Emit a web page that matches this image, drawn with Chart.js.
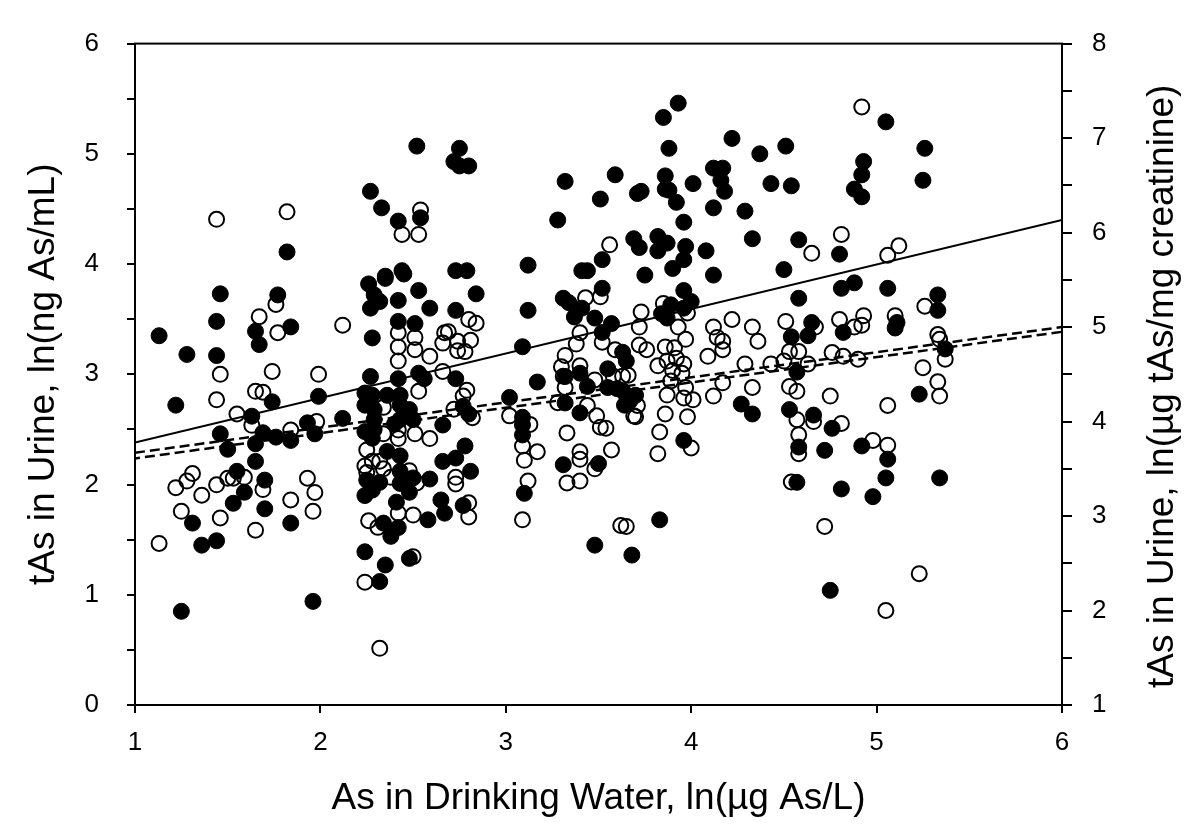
<!DOCTYPE html>
<html>
<head>
<meta charset="utf-8">
<script src="https://cdn.jsdelivr.net/npm/chart.js@4/dist/chart.umd.min.js"></script>
<style>
    html, body { margin: 0; padding: 0; background: #fff; }
    #wrap { width: 1200px; height: 829px; }
</style>
</head>
<body>
<div id="wrap"><canvas id="chart" width="1200" height="829"></canvas></div>
<script>
// values
var xTicks = [1, 2, 3, 4, 5, 6];
var leftTicks = [0, 1, 2, 3, 4, 5, 6];
var rightTicks = [1, 2, 3, 4, 5, 6, 7, 8];

// tAs in urine, ng As/mL (filled circles, left axis)
var filledX = [2.52,2.27,2.33,2.42,2.54,1.82,2.44,2.35,2.75,2.72,2.75,2.80,3.32,3.59,3.51,3.71,3.73,3.28,3.12,2.73,
    2.79,3.41,3.44,3.52,3.69,3.72,3.82,3.87,3.82,3.97,3.96,3.90,3.75,4.12,4.08,3.96,3.92,3.86,3.86,3.88,
    4.01,4.12,4.12,4.17,4.16,4.18,4.29,4.33,4.22,4.37,3.88,3.85,3.93,5.05,4.51,4.43,4.54,4.93,4.92,4.88,
    4.92,5.26,5.25,4.58,4.80,4.50,1.13,1.28,1.46,1.44,1.44,1.22,1.77,1.65,1.67,1.84,1.74,1.99,1.63,1.46,
    1.50,1.69,1.65,1.76,1.84,1.93,1.97,2.12,1.65,1.55,1.70,2.26,2.35,2.45,2.29,2.27,2.32,2.42,2.53,2.59,
    2.28,2.42,2.51,2.27,2.42,2.53,2.56,2.24,2.28,2.36,2.43,2.24,2.29,2.43,2.48,2.29,2.43,2.50,2.24,2.29,
    2.40,2.66,2.28,2.36,2.43,2.66,2.43,2.25,2.32,2.50,2.59,2.43,2.84,2.73,3.12,3.09,2.73,2.77,2.80,2.78,
    2.73,2.81,3.17,3.02,3.09,3.09,3.09,3.31,3.50,3.40,3.32,3.32,3.40,3.37,3.41,3.48,3.31,3.34,3.52,3.52,
    3.57,3.63,3.65,3.55,3.44,3.55,3.60,3.63,3.70,3.65,3.67,3.64,3.84,3.87,3.89,3.96,4.00,3.96,3.96,4.27,
    4.33,4.58,4.81,4.88,5.06,5.33,5.33,4.65,4.54,4.63,4.82,5.10,5.11,5.37,5.23,4.57,4.53,4.66,4.76,4.58,
    4.72,4.92,5.06,5.05,5.34,4.57,4.81,1.31,1.36,1.44,1.53,1.59,1.70,1.84,1.25,1.96,2.32,2.24,2.35,2.48,
    2.34,2.38,2.42,2.58,2.41,2.24,2.28,2.48,2.65,2.67,2.77,3.10,3.48,3.68,3.83,4.98,4.75];
var filledY = [5.07,4.66,4.51,4.39,4.42,4.11,3.94,3.89,5.05,4.93,4.89,4.89,4.75,4.81,4.59,4.64,4.66,4.40,3.99,3.94,
    3.94,3.94,3.94,4.04,4.23,4.15,4.25,4.19,4.12,4.16,4.04,3.96,3.90,3.90,4.12,4.38,4.56,4.80,4.68,4.67,
    4.73,4.51,4.87,4.87,4.76,4.66,4.48,4.23,5.14,5.00,5.05,5.33,5.46,5.29,5.07,4.73,4.71,4.93,4.81,4.68,
    4.61,5.05,4.76,4.22,4.09,3.95,3.35,3.18,3.73,3.48,3.17,2.72,3.72,3.39,3.27,3.43,2.75,2.80,2.62,2.46,
    2.32,2.47,2.37,2.43,2.40,2.56,2.46,2.60,2.21,2.12,2.04,3.82,3.87,3.91,3.72,3.60,3.66,3.67,3.76,3.60,
    3.33,3.48,3.46,2.98,2.96,3.01,2.96,2.83,2.81,2.81,2.81,2.72,2.68,2.72,2.68,2.59,2.59,2.59,2.48,2.50,
    2.55,2.54,2.42,2.30,2.26,2.21,2.12,2.04,2.02,2.06,2.05,2.01,3.73,3.58,3.58,3.25,2.96,2.71,2.64,2.35,
    2.24,2.12,2.93,2.79,2.61,2.54,2.45,2.18,2.19,2.65,2.74,2.98,3.01,3.52,3.60,3.51,3.69,3.65,3.78,3.38,
    3.46,3.20,3.12,3.05,2.89,2.88,2.87,2.85,2.81,2.81,2.76,2.72,3.55,3.51,3.63,3.60,3.66,3.76,2.40,2.73,
    2.64,3.69,3.78,3.83,3.78,3.72,3.58,3.47,3.34,3.35,3.38,3.42,3.47,3.23,2.82,3.02,2.68,2.63,2.51,2.34,
    2.31,2.35,2.23,2.06,2.06,2.02,1.96,1.65,1.45,1.49,1.83,1.93,1.78,1.65,0.85,0.94,1.12,1.39,1.27,1.33,
    1.65,1.53,1.61,1.68,1.84,1.90,1.95,1.93,1.86,1.74,1.81,1.92,1.45,1.36,1.68,1.89,1.04];

// tAs in urine, ug tAs/mg creatinine (open circles, right axis)
var openX = [1.44,1.82,2.54,2.44,2.53,3.56,4.92,4.65,4.81,5.06,5.12,1.46,1.44,1.76,1.67,1.77,1.74,1.99,2.12,1.65,
    1.69,1.55,1.63,1.84,1.98,1.31,1.28,1.22,1.44,1.50,1.53,1.59,1.93,2.42,2.51,2.42,2.51,2.59,2.42,2.67,
    2.66,2.66,2.53,2.34,2.34,2.42,2.42,2.51,2.59,2.25,2.28,2.32,2.24,2.25,2.34,2.38,2.48,2.52,2.80,2.84,
    2.69,2.74,2.81,2.74,2.78,2.79,2.77,2.72,2.82,2.73,2.73,3.02,3.13,3.09,3.17,3.10,3.33,3.12,3.33,3.40,
    3.40,3.40,3.48,3.57,3.51,3.54,3.49,3.44,3.28,3.32,3.31,3.30,3.40,3.32,3.38,3.40,3.43,3.51,3.52,3.59,
    3.58,3.63,3.66,3.48,3.71,3.69,3.70,3.73,3.72,3.72,3.76,3.82,3.85,3.98,3.93,3.97,3.86,3.91,3.87,3.92,
    3.96,3.90,3.95,3.89,3.97,3.87,3.96,4.01,3.86,3.98,3.83,3.82,4.00,4.12,4.14,4.17,4.17,4.09,4.22,4.33,
    4.36,4.29,4.17,4.12,4.33,5.26,4.51,4.67,4.80,4.88,4.92,4.93,5.10,5.33,5.34,5.37,5.25,5.33,5.34,5.06,
    4.75,4.53,4.58,4.50,4.43,4.63,4.76,4.82,4.90,4.53,4.57,4.57,4.66,4.81,4.58,4.58,4.98,5.06,4.54,1.36,
    1.25,1.13,1.46,1.69,1.65,1.84,1.97,1.96,2.24,2.50,2.32,2.26,2.31,2.50,2.42,2.80,2.80,3.09,3.62,3.65,
    4.72,5.05,5.23];
var openY = [6.14,6.22,6.24,5.98,5.98,5.87,7.33,5.78,5.98,5.76,5.86,4.50,4.23,5.24,5.11,4.94,4.53,4.50,5.02,4.32,
    4.31,4.08,3.96,3.91,4.00,3.45,3.37,3.30,3.33,3.40,3.40,3.41,3.40,4.94,4.89,4.79,4.76,4.69,4.64,4.94,
    4.83,4.53,4.32,4.15,3.87,3.91,3.82,3.87,3.82,3.70,3.58,3.58,3.53,3.46,3.50,3.41,3.48,3.35,5.08,5.04,
    4.95,4.85,4.86,4.75,4.74,4.33,4.27,4.13,4.04,3.41,3.34,4.06,3.97,3.74,3.68,3.59,3.88,3.37,3.35,3.68,
    3.60,3.37,3.50,3.70,3.94,3.93,4.06,4.17,4.20,4.36,4.48,4.58,4.59,4.70,4.82,4.94,5.31,5.32,4.84,4.76,
    4.48,4.48,4.49,4.44,4.17,4.06,4.05,5.16,5.00,4.81,4.76,4.59,5.25,5.15,5.00,4.87,4.79,4.78,4.64,4.67,
    4.61,4.54,4.51,4.43,4.36,4.28,4.25,4.23,4.08,4.05,3.89,3.66,3.72,5.00,4.89,4.85,4.76,4.69,5.08,5.00,
    4.85,4.61,4.41,4.27,4.36,5.22,5.06,5.00,5.08,5.00,5.02,5.12,5.12,4.92,4.87,4.66,4.57,4.42,4.27,4.17,
    4.27,4.74,4.74,4.64,4.61,4.61,4.73,4.69,4.66,4.37,4.32,4.02,4.00,3.98,3.86,3.66,3.80,3.75,3.36,3.22,
    3.05,2.71,2.98,3.28,2.85,3.17,3.25,3.05,2.30,2.57,1.60,2.95,2.88,3.01,3.03,3.14,2.99,2.96,2.90,2.89,
    2.89,2.00,2.39];

// fitted lines, end points at x = 1 and x = 6
var fitX = [1, 6];
var fitSolid = [2.38, 4.40];       // left axis
var fitDashUpper = [3.67, 5.00];   // right axis
var fitDashLower = [3.61, 4.95];   // right axis

var xTitle = 'As in Drinking Water, ln(\u00b5g As/L)';
var leftTitle = 'tAs in Urine, ln(ng As/mL)';
var rightTitle = 'tAs in Urine, ln(\u00b5g tAs/mg creatinine)';

var FONT = '"Liberation Sans", Arial, Helvetica, sans-serif';

function pairs(xs, ys) {
    var out = [];
    for (var i = 0; i < xs.length; i++) out.push({ x: xs[i], y: ys[i] });
    return out;
}
function onlyListed(list) {
    return function (value) {
        return list.indexOf(value) >= 0 ? String(value) : '';
    };
}

var framePlugin = {
    id: 'frame',
    afterDatasetsDraw: function (chart) {
        var a = chart.chartArea, ctx = chart.ctx;
        ctx.save();
        ctx.strokeStyle = '#000';
        ctx.lineWidth = 2;
        ctx.strokeRect(a.left, a.top, a.right - a.left, a.bottom - a.top);
        ctx.restore();
    },
    afterDraw: function (chart) {
        // right axis title reads bottom-to-top like the left one
        var a = chart.chartArea, ctx = chart.ctx;
        ctx.save();
        ctx.translate(a.right + 101, (a.top + a.bottom) / 2 + 12);
        ctx.rotate(-Math.PI / 2);
        ctx.fillStyle = '#000';
        ctx.font = '37px ' + FONT;
        ctx.textAlign = 'center';
        ctx.textBaseline = 'middle';
        ctx.fillText(rightTitle, 0, 0);
        ctx.restore();
    }
};

var tickFont = { family: FONT, size: 26 };
var titleFont = { family: FONT, size: 37 };

var chart = new Chart(document.getElementById('chart').getContext('2d'), {
    data: {
        datasets: [
            {
                type: 'line', data: pairs(fitX, fitSolid), yAxisID: 'y',
                borderColor: '#000', borderWidth: 2, pointRadius: 0, fill: false
            },
            {
                type: 'line', data: pairs(fitX, fitDashUpper), yAxisID: 'y2',
                borderColor: '#000', borderWidth: 2.5, borderDash: [10, 5], pointRadius: 0, fill: false
            },
            {
                type: 'line', data: pairs(fitX, fitDashLower), yAxisID: 'y2',
                borderColor: '#000', borderWidth: 2.5, borderDash: [10, 5], borderDashOffset: 5, pointRadius: 0, fill: false
            },
            {
                type: 'scatter', data: pairs(filledX, filledY), yAxisID: 'y',
                backgroundColor: '#000', borderColor: '#000', borderWidth: 1, pointRadius: 8
            },
            {
                type: 'scatter', data: pairs(openX, openY), yAxisID: 'y2',
                backgroundColor: 'rgba(255,255,255,0)', borderColor: '#000', borderWidth: 2, pointRadius: 7.5
            }
        ]
    },
    options: {
        responsive: false,
        animation: false,
        devicePixelRatio: 1,
        layout: { padding: { top: 27, left: 0, right: 0, bottom: 0 } },
        plugins: { legend: { display: false }, tooltip: { enabled: false } },
        scales: {
            x: {
                type: 'linear', position: 'bottom', min: 1, max: 6,
                afterFit: function (s) { s.height = 124; },
                ticks: { stepSize: 1, color: '#000', font: tickFont, padding: 14, maxRotation: 0,
                    callback: onlyListed(xTicks) },
                grid: { drawOnChartArea: false, tickLength: 8, color: '#000', lineWidth: 2 },
                border: { color: '#000', width: 2 },
                title: { display: true, text: xTitle, color: '#000', font: titleFont, padding: { top: 0, bottom: 8 } }
            },
            y: {
                type: 'linear', position: 'left', min: 0, max: 6,
                afterFit: function (s) { s.width = 135; },
                ticks: { stepSize: 0.5, color: '#000', font: tickFont, padding: 28, autoSkip: false,
                    callback: onlyListed(leftTicks) },
                grid: { drawOnChartArea: false, tickLength: 8, color: '#000', lineWidth: 2 },
                border: { color: '#000', width: 2 },
                title: { display: true, text: leftTitle, color: '#000', font: titleFont, padding: { top: 22, bottom: 0 } }
            },
            y2: {
                type: 'linear', position: 'right', min: 1, max: 8,
                afterFit: function (s) { s.width = 138; },
                ticks: { stepSize: 0.5, color: '#000', font: tickFont, padding: 20, autoSkip: false,
                    callback: onlyListed(rightTicks) },
                grid: { drawOnChartArea: false, tickLength: 10, color: '#000', lineWidth: 2 },
                border: { color: '#000', width: 2 }
            }
        }
    },
    plugins: [framePlugin]
});
</script>
</body>
</html>
